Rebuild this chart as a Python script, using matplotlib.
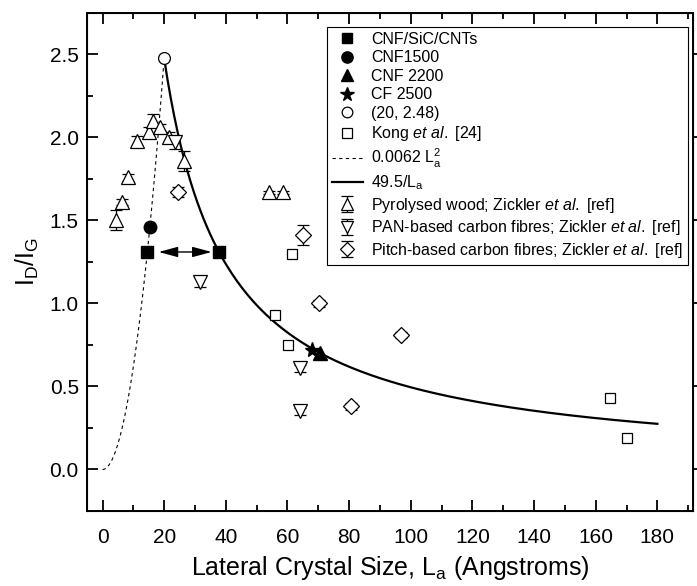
import matplotlib
matplotlib.use('Agg')
import matplotlib.pyplot as plt
import numpy as np

plt.rcParams['font.family'] = ['Liberation Sans', 'DejaVu Sans']
plt.rcParams['mathtext.fontset'] = 'custom'
plt.rcParams['mathtext.rm'] = 'Liberation Sans'
plt.rcParams['mathtext.it'] = 'Liberation Sans:italic'

# ---- data ----
cnf_sic_x = [14.5, 37.8]
cnf_sic_y = [1.31, 1.31]
cnf1500_x = [15.3]
cnf1500_y = [1.46]
cnf2200_x = [70.7]
cnf2200_y = [0.70]
cf2500_x = [67.8]
cf2500_y = [0.72]
peak_x = [20]
peak_y = [2.48]

kong_x = [55.8, 60.1, 61.4, 164.6, 170.0]
kong_y = [0.93, 0.75, 1.30, 0.43, 0.19]

wood_x = [4.5, 6.2, 8.2, 11.3, 15.0, 16.3, 18.8, 21.4, 26.3, 53.9, 58.4]
wood_y = [1.50, 1.61, 1.76, 1.98, 2.03, 2.10, 2.06, 2.00, 1.86, 1.67, 1.67]
wood_err = [0.06, 0.02, 0.02, 0.03, 0.03, 0.04, 0.02, 0.03, 0.06, 0.01, 0.01]

pan_x = [23.5, 31.5, 64.2, 64.2]
pan_y = [1.97, 1.13, 0.61, 0.35]
pan_err = [0.04, 0.03, 0.02, 0.02]

pitch_x = [24.4, 65.0, 70.1, 80.5, 96.7]
pitch_y = [1.67, 1.41, 1.00, 0.38, 0.81]
pitch_err = [0.03, 0.06, 0.02, 0.02, 0.02]

quad_coef = 0.0062
inv_coef = 49.5

fig = plt.figure(figsize=(6.97, 5.86), dpi=100)
ax = fig.add_axes([0.125, 0.128, 0.869, 0.85])

# curves
la_q = np.linspace(0, 20, 100)
ax.plot(la_q, quad_coef * la_q ** 2, color='black', linestyle=(0, (3, 3)), linewidth=0.8,
        label='0.0062 L$_\\mathrm{a}^2$', zorder=2)
la_i = np.linspace(20, 180, 300)
ax.plot(la_i, inv_coef / la_i, color='black', linewidth=1.6, label='49.5/L$_\\mathrm{a}$', zorder=2)

# arrow between the two squares
ax.annotate('', xy=(35.4, cnf_sic_y[1]), xytext=(18.2, cnf_sic_y[0]),
            arrowprops=dict(arrowstyle='<|-|>,head_length=1.3,head_width=0.35', color='black',
                            lw=1.0, mutation_scale=9, shrinkA=0, shrinkB=0))

kw_open = dict(linestyle='none', markerfacecolor='white', markeredgecolor='black',
               markeredgewidth=0.9, ecolor='black', elinewidth=0.9, capsize=4, capthick=0.9)

h_sq, = ax.plot(cnf_sic_x, cnf_sic_y, 's', color='black', markersize=8, label='CNF/SiC/CNTs', zorder=5)
h_ci, = ax.plot(cnf1500_x, cnf1500_y, 'o', color='black', markersize=9, label='CNF1500', zorder=5)
h_tr, = ax.plot(cnf2200_x, cnf2200_y, '^', color='black', markersize=10, label='CNF 2200', zorder=5)
h_st, = ax.plot(cf2500_x, cf2500_y, '*', color='black', markersize=11, label='CF 2500', zorder=5)
h_pk, = ax.plot(peak_x, peak_y, 'o', markerfacecolor='white', markeredgecolor='black',
                markeredgewidth=0.9, markersize=8.5, label='(20, 2.48)', zorder=5)
h_kg, = ax.plot(kong_x, kong_y, 's', markerfacecolor='white', markeredgecolor='black',
                markeredgewidth=0.9, markersize=7.5, label='Kong $\\it{et\\ al.}$ [24]', zorder=4)

h_wd = ax.errorbar(wood_x, wood_y, yerr=wood_err, fmt='^', markersize=9.5,
                   label='Pyrolysed wood; Zickler $\\it{et\\ al.}$ [ref]', zorder=3, **kw_open)
h_pn = ax.errorbar(pan_x, pan_y, yerr=pan_err, fmt='v', markersize=9.5,
                   label='PAN-based carbon fibres; Zickler $\\it{et\\ al.}$ [ref]', zorder=3, **kw_open)
h_pt = ax.errorbar(pitch_x, pitch_y, yerr=pitch_err, fmt='D', markersize=8,
                   label='Pitch-based carbon fibres; Zickler $\\it{et\\ al.}$ [ref]', zorder=3, **kw_open)

handles, labels = ax.get_legend_handles_labels()
order = ['CNF/SiC/CNTs', 'CNF1500', 'CNF 2200', 'CF 2500', '(20, 2.48)', 'Kong $\\it{et\\ al.}$ [24]',
         '0.0062 L$_\\mathrm{a}^2$', '49.5/L$_\\mathrm{a}$',
         'Pyrolysed wood; Zickler $\\it{et\\ al.}$ [ref]',
         'PAN-based carbon fibres; Zickler $\\it{et\\ al.}$ [ref]',
         'Pitch-based carbon fibres; Zickler $\\it{et\\ al.}$ [ref]']
hmap = dict(zip(labels, handles))
leg = ax.legend([hmap[l] for l in order], order, loc='upper right', bbox_to_anchor=(0.998, 0.978),
                fontsize=11.5, frameon=True, fancybox=False, edgecolor='black', framealpha=1,
                handlelength=2.0, handletextpad=0.5, borderpad=0.3, labelspacing=0.22,
                markerscale=0.9, borderaxespad=0.2)
leg.get_frame().set_linewidth(0.8)

ax.set_xlim(-5, 191.5)
ax.set_ylim(-0.25, 2.75)
ax.set_xticks(np.arange(0, 181, 20))
ax.set_xticks(np.arange(10, 191, 20), minor=True)
ax.set_yticks(np.arange(0, 2.51, 0.5))
ax.set_yticks(np.arange(0.25, 2.75, 0.5), minor=True)
ax.set_yticklabels(['%.1f' % v for v in np.arange(0, 2.51, 0.5)])

ax.tick_params(axis='both', which='major', direction='in', length=8, width=1.3, labelsize=15,
               top=True, right=False)
ax.tick_params(axis='both', which='minor', direction='in', length=4.5, width=1.3, top=True, right=False)
ax.tick_params(axis='x', pad=12)
ax.tick_params(axis='y', pad=6)
for s in ax.spines.values():
    s.set_linewidth(1.4)

# right axis with outward ticks
ax_r = ax.twinx()
ax_r.set_ylim(ax.get_ylim())
ax_r.set_yticks(np.arange(0, 2.51, 0.5))
ax_r.tick_params(axis='y', direction='out', length=5, width=1.3, labelright=False)

ax.set_xlabel('Lateral Crystal Size, L$_\\mathrm{a}$ (Angstroms)', fontsize=18, labelpad=5)
ax.set_ylabel('I$_\\mathrm{D}$/I$_\\mathrm{G}$', fontsize=18, labelpad=6)

fig.savefig('out.png', dpi=100)
